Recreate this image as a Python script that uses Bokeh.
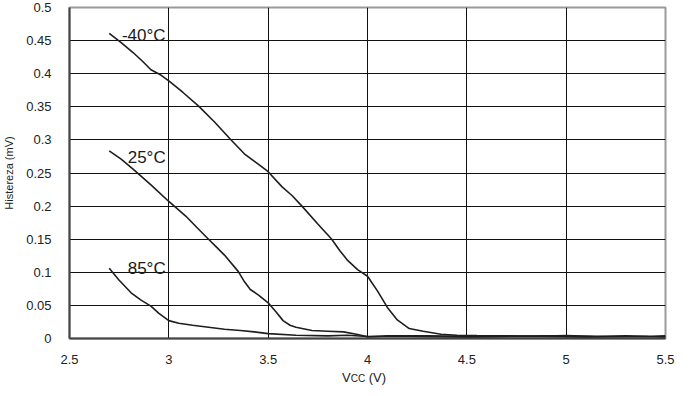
from bokeh.plotting import figure
from bokeh.models import Range1d, FixedTicker, CustomJSTickFormatter, Label, Div
from bokeh.layouts import column
from bokeh.embed import file_html
from bokeh.resources import INLINE

# ---- data ----
x_ticks = [2.5, 3.0, 3.5, 4.0, 4.5, 5.0, 5.5]
y_ticks = [0, 0.05, 0.1, 0.15, 0.2, 0.25, 0.3, 0.35, 0.4, 0.45, 0.5]

m40_x = [2.70, 2.76, 2.82, 2.87, 2.91, 2.96, 3.00, 3.07, 3.15, 3.23, 3.31, 3.38,
         3.46, 3.50, 3.57, 3.62, 3.67, 3.75, 3.82, 3.86, 3.90, 3.95, 4.00, 4.05,
         4.10, 4.15, 4.21, 4.28, 4.37, 4.45, 4.55, 4.70, 4.85, 5.00, 5.15, 5.30,
         5.42, 5.50]
m40_y = [0.461, 0.447, 0.432, 0.418, 0.406, 0.398, 0.389, 0.372, 0.351, 0.327,
         0.301, 0.279, 0.261, 0.252, 0.229, 0.216, 0.200, 0.173, 0.150, 0.133,
         0.118, 0.104, 0.094, 0.072, 0.047, 0.028, 0.015, 0.011, 0.0065, 0.005,
         0.0045, 0.004, 0.0035, 0.0045, 0.003, 0.004, 0.003, 0.004]

t25_x = [2.70, 2.76, 2.82, 2.91, 3.00, 3.085, 3.14, 3.20, 3.24, 3.28, 3.35,
         3.38, 3.41, 3.45, 3.50, 3.54, 3.575, 3.61, 3.64, 3.72, 3.80, 3.88,
         3.95, 4.00, 4.10, 4.30, 4.60, 4.90, 5.20, 5.50]
t25_y = [0.2835, 0.271, 0.256, 0.232, 0.207, 0.185, 0.168, 0.150, 0.138, 0.126,
         0.101, 0.086, 0.074, 0.066, 0.054, 0.040, 0.027, 0.020, 0.017, 0.012,
         0.011, 0.010, 0.006, 0.0025, 0.004, 0.004, 0.003, 0.004, 0.003, 0.003]

t85_x = [2.70, 2.75, 2.81, 2.86, 2.91, 2.95, 3.00, 3.05, 3.12, 3.20, 3.28,
         3.36, 3.43, 3.50, 3.64, 3.80, 3.90, 4.00, 4.20, 4.50, 4.80, 5.10,
         5.40, 5.50]
t85_y = [0.106, 0.088, 0.069, 0.058, 0.049, 0.038, 0.027, 0.023, 0.020, 0.017,
         0.014, 0.012, 0.010, 0.0074, 0.005, 0.004, 0.005, 0.003, 0.003, 0.002,
         0.003, 0.002, 0.003, 0.002]

curve_labels = ["-40°C", "25°C", "85°C"]
label_x = [2.764, 2.793, 2.793]
label_y = [0.457, 0.2737, 0.1058]

FONT = "Liberation Sans"

p = figure(width=675, height=366, output_backend="svg", toolbar_location=None,
           x_range=Range1d(2.5, 5.5), y_range=Range1d(0, 0.5),
           min_border_left=59, min_border_right=10, min_border_top=7,
           min_border_bottom=27)
p.background_fill_color = "white"
p.border_fill_color = "white"
p.outline_line_color = "#9a9a9a"
p.outline_line_width = 2

p.xaxis.ticker = FixedTicker(ticks=x_ticks)
p.yaxis.ticker = FixedTicker(ticks=y_ticks)
p.yaxis.formatter = CustomJSTickFormatter(code="return (Math.round(tick*100)/100).toString();")
p.xaxis.formatter = CustomJSTickFormatter(code="return (Math.round(tick*10)/10).toString();")

for ax in (p.xaxis, p.yaxis):
    ax.axis_line_color = "#444444"
    ax.axis_line_width = 2
    ax.major_tick_line_color = None
    ax.minor_tick_line_color = None
    ax.major_label_text_font = FONT
    ax.major_label_text_font_size = "13px"
    ax.major_label_text_color = "#222222"
p.yaxis.major_label_standoff = 12
p.xaxis.major_label_standoff = 10

p.yaxis.axis_label = "Histereza (mV)"
p.yaxis.axis_label_text_font = FONT
p.yaxis.axis_label_text_font_size = "11px"
p.yaxis.axis_label_text_font_style = "normal"
p.yaxis.axis_label_text_color = "#222222"
p.yaxis.axis_label_standoff = 8

p.xgrid.grid_line_color = "#111111"
p.ygrid.grid_line_color = "#111111"
p.xgrid.grid_line_width = 1
p.ygrid.grid_line_width = 1

for xs, ys in ((m40_x, m40_y), (t25_x, t25_y), (t85_x, t85_y)):
    p.line(xs, ys, line_color="#1e1e1e", line_width=1.6)

for t, lx, ly in zip(curve_labels, label_x, label_y):
    p.add_layout(Label(x=lx, y=ly, text=t, text_font=FONT, text_font_size="17px",
                       text_color="#1a1a1a", text_baseline="alphabetic"))

# x-axis label "VCC (V)" with small CC
xlabel = Div(text='V<span style="font-size:10px">CC</span> (V)', width=675, height=14,
             styles={"font-family": FONT, "font-size": "13px", "line-height": "14px",
                     "color": "#222222", "padding-left": "337px"})

layout = column(p, xlabel, spacing=0)
open("out.html", "w").write(file_html(layout, INLINE))
